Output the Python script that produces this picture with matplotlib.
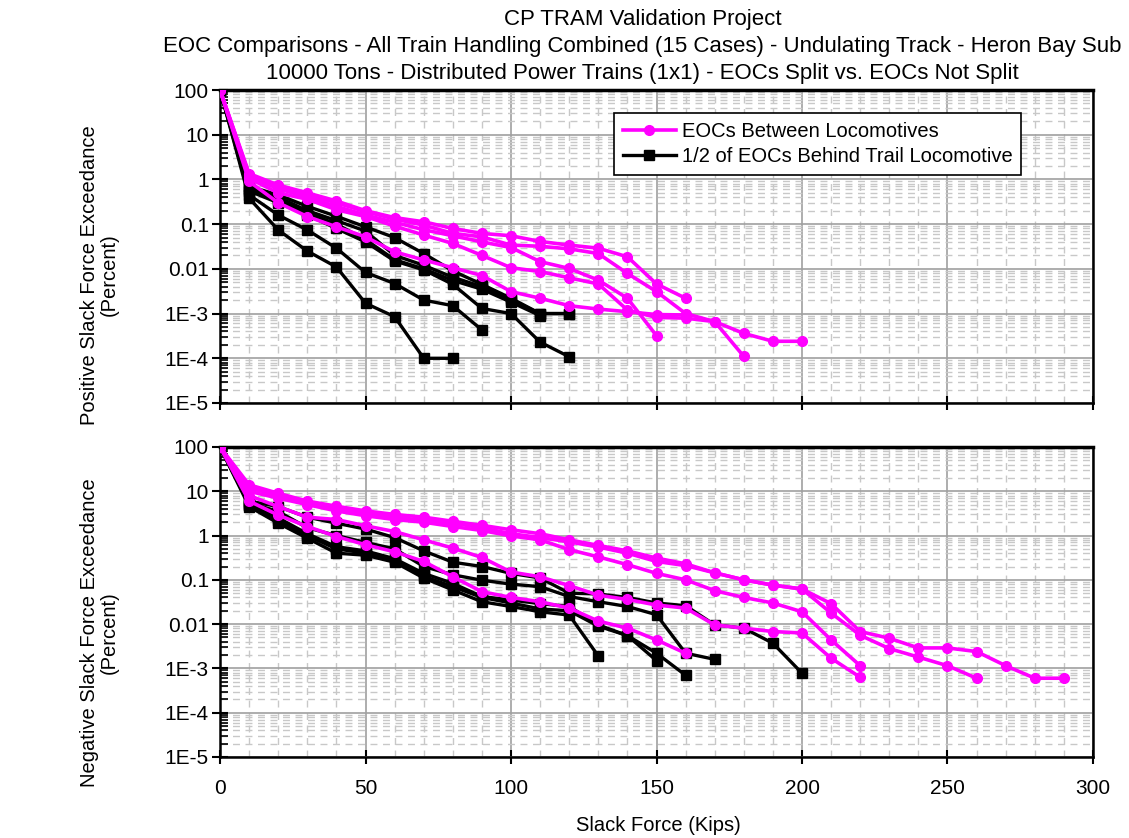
import matplotlib
matplotlib.use("Agg")
import matplotlib.pyplot as plt
from matplotlib.ticker import LogLocator, FixedLocator, MultipleLocator, NullFormatter

plt.rcParams['font.family'] = ['Liberation Sans', 'DejaVu Sans']

# slack force (kips), one point every 10 kips starting at 0
step = 10

# positive slack force exceedance (percent)
pos_between = [
    [100, 1.35, 0.75, 0.5, 0.33, 0.2, 0.14, 0.113, 0.08, 0.062, 0.055, 0.041, 0.034, 0.029, 0.0186, 0.0046, 0.0022],
    [100, 1.25, 0.7, 0.45, 0.3, 0.19, 0.13, 0.095, 0.062, 0.052, 0.034, 0.032, 0.028, 0.022, 0.0079, 0.0031, 0.001,
     0.00066, 0.00036, 0.00024, 0.00024],
    [100, 1.15, 0.62, 0.4, 0.25, 0.16, 0.11, 0.075, 0.055, 0.04, 0.03, 0.0145, 0.0102, 0.0056, 0.0022, 0.00032],
    [100, 1.05, 0.5, 0.36, 0.21, 0.148, 0.09, 0.057, 0.037, 0.02, 0.0106, 0.0087, 0.0063, 0.0046, 0.0012, 0.00082,
     0.00079, 0.00066, 0.00011],
    [100, 0.9, 0.3, 0.148, 0.087, 0.052, 0.024, 0.0158, 0.0106, 0.0071, 0.0031, 0.0022, 0.0015, 0.00126, 0.0011,
     0.00095, 0.00093],
]
pos_behind = [
    [100, 0.7, 0.45, 0.25, 0.15, 0.087, 0.05, 0.022, 0.009, 0.0045, 0.0022, 0.001, 0.001],
    [100, 0.65, 0.4, 0.2, 0.12, 0.07, 0.02, 0.012, 0.0065, 0.004, 0.002, 0.001, 0.001],
    [100, 0.6, 0.35, 0.18, 0.1, 0.045, 0.016, 0.01, 0.0055, 0.0035, 0.0018, 0.0009],
    [100, 0.55, 0.3, 0.16, 0.08, 0.04, 0.015, 0.0095, 0.0045, 0.0013, 0.001, 0.00023, 0.000108],
    [100, 0.45, 0.16, 0.074, 0.029, 0.0083, 0.0047, 0.002, 0.0015, 0.00043],
    [100, 0.38, 0.074, 0.025, 0.011, 0.0017, 0.00085, 0.0001, 0.0001],
]

# negative slack force exceedance (percent)
neg_between = [
    [100, 14, 9, 6, 4.6, 3.6, 3.0, 2.6, 2.1, 1.7, 1.35, 1.1, 0.8, 0.6, 0.45, 0.31, 0.23, 0.144, 0.1, 0.076, 0.062,
     0.029, 0.0068, 0.0048, 0.0029, 0.0029, 0.0024, 0.00115, 0.0006, 0.0006],
    [100, 12, 8, 5.5, 4.0, 3.2, 2.6, 2.2, 1.9, 1.5, 1.1, 0.9, 0.72, 0.55, 0.4, 0.26, 0.21, 0.144, 0.1, 0.076, 0.062,
     0.0178, 0.0056, 0.0028, 0.0018, 0.00115, 0.0006],
    [100, 10, 7, 5.0, 3.6, 2.8, 2.3, 2.0, 1.6, 1.3, 0.98, 0.8, 0.48, 0.33, 0.22, 0.14, 0.1, 0.057, 0.04, 0.03, 0.019,
     0.0044, 0.00115],
    [100, 8, 4.5, 2.6, 2.3, 1.66, 1.23, 0.8, 0.52, 0.32, 0.15, 0.117, 0.074, 0.045, 0.036, 0.027, 0.023, 0.0096,
     0.0081, 0.0068, 0.0063, 0.0017, 0.00063],
    [100, 6, 2.9, 1.6, 0.95, 0.62, 0.43, 0.26, 0.117, 0.054, 0.04, 0.032, 0.023, 0.0117, 0.0081, 0.0044, 0.0022],
]
neg_behind = [
    [100, 6.0, 4.5, 2.6, 1.9, 1.4, 0.9, 0.45, 0.25, 0.2, 0.14, 0.11, 0.05, 0.048, 0.04, 0.03, 0.026, 0.0096, 0.0081,
     0.0037, 0.00078],
    [100, 5.5, 3.5, 1.5, 1.0, 0.7, 0.5, 0.2, 0.13, 0.098, 0.08, 0.07, 0.042, 0.032, 0.025, 0.0163, 0.0022, 0.0016],
    [100, 5.0, 2.5, 1.1, 0.56, 0.45, 0.3, 0.14, 0.083, 0.042, 0.035, 0.029, 0.025, 0.0096, 0.0055, 0.0015],
    [100, 5.0, 2.2, 1.0, 0.5, 0.4, 0.28, 0.12, 0.07, 0.04, 0.03, 0.022, 0.02, 0.009, 0.0055, 0.0022, 0.0007],
    [100, 4.5, 1.9, 0.87, 0.4, 0.36, 0.25, 0.11, 0.059, 0.032, 0.025, 0.019, 0.016, 0.0019],
]

labels = ["EOCs Between Locomotives", "1/2 of EOCs Behind Trail Locomotive"]
title = ("CP TRAM Validation Project\n"
         "EOC Comparisons - All Train Handling Combined (15 Cases) - Undulating Track - Heron Bay Sub\n"
         "10000 Tons - Distributed Power Trains (1x1) - EOCs Split vs. EOCs Not Split")

fig = plt.figure(figsize=(11.29, 8.38), dpi=100)
ax1 = fig.add_axes([0.1949, 0.5191, 0.7732, 0.3735])
ax2 = fig.add_axes([0.1949, 0.0967, 0.7732, 0.3699])


def draw(ax, between, behind):
    for i, s in enumerate(behind):
        x = [k * step for k in range(len(s))]
        ax.plot(x, s, color="black", marker="s", ms=6.5, lw=2.4,
                label=labels[1] if i == 0 else None, zorder=3)
    for i, s in enumerate(between):
        x = [k * step for k in range(len(s))]
        ax.plot(x, s, color="#ff00ff", marker="o", ms=7, lw=2.6,
                label=labels[0] if i == 0 else None, zorder=4)
    ax.set_yscale("log")
    ax.set_ylim(1e-5, 100)
    ax.set_xlim(0, 300)
    ax.xaxis.set_major_locator(MultipleLocator(50))
    ax.xaxis.set_minor_locator(MultipleLocator(10))
    ax.yaxis.set_minor_locator(LogLocator(base=10, subs=range(2, 10), numticks=10))
    ax.yaxis.set_minor_formatter(NullFormatter())
    ax.yaxis.set_major_locator(FixedLocator([1e-5, 1e-4, 1e-3, 0.01, 0.1, 1, 10, 100]))
    ax.set_yticklabels(["1E-5", "1E-4", "1E-3", "0.01", "0.1", "1", "10", "100"])
    ax.grid(which="major", color="#a0a0a0", lw=1.2, ls="-")
    ax.grid(which="minor", color="#c8c8c8", lw=1.0, ls=(0, (5, 4)))
    ax.set_axisbelow(True)
    ax.tick_params(axis="y", which="major", direction="inout", length=12, width=1.5, labelsize=15, pad=2)
    ax.tick_params(axis="y", which="minor", direction="in", length=6, width=1.2)
    ax.tick_params(axis="x", which="major", direction="inout", length=10, width=1.5, labelsize=15, pad=11)
    ax.tick_params(axis="x", which="minor", length=0)
    for side in ["left", "bottom", "right"]:
        ax.spines[side].set_linewidth(1.8)
    ax.spines["top"].set_linewidth(2.5)


draw(ax1, pos_between, pos_behind)
draw(ax2, neg_between, neg_behind)
ax1.set_xticklabels([])
ax2.set_xticks(range(0, 301, 50))

handles, labs = ax1.get_legend_handles_labels()
leg = ax1.legend(handles[::-1], labs[::-1], loc="upper left", bbox_to_anchor=(0.44, 0.96),
                 fontsize=14.5, fancybox=False, framealpha=1, edgecolor="black",
                 handlelength=2.6, handletextpad=0.3, borderpad=0.45, labelspacing=0.3)
leg.get_frame().set_linewidth(1.2)

fig.text(0.569, 0.989, title, ha="center", va="top", fontsize=16, linespacing=1.38)
fig.text(0.088, 0.672, "Positive Slack Force Exceedance\n(Percent)", rotation=90,
         ha="center", va="center", multialignment="center", fontsize=14.5, linespacing=1.1)
fig.text(0.088, 0.245, "Negative Slack Force Exceedance\n(Percent)", rotation=90,
         ha="center", va="center", multialignment="center", fontsize=14.5, linespacing=1.1)
fig.text(0.583, 0.015, "Slack Force (Kips)", ha="center", va="center", fontsize=14.5)

fig.savefig("out.png", dpi=100)
